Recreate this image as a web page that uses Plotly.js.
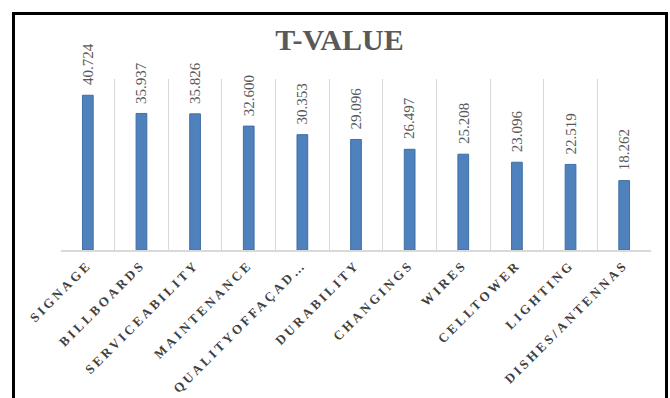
<!DOCTYPE html>
<html>
<head>
<meta charset="utf-8">
<script src="https://cdn.plot.ly/plotly-3.0.1.min.js"></script>
<style>
  html, body { margin: 0; padding: 0; background: #ffffff; }
  #wrap { position: relative; width: 670px; height: 398px; overflow: hidden; }
  #chart { position: absolute; left: 0; top: 0; width: 670px; height: 398px; }
  #frame {
    position: absolute; left: 12px; top: 12px; width: 650px; height: 420px;
    border: 3px solid #000000; pointer-events: none;
  }
  #chart .xtick text { letter-spacing: 3px; }
</style>
</head>
<body>
<div id="wrap">
  <div id="chart"></div>
  <div id="frame"></div>
</div>
<script>
// Factor names as printed on the category axis
const categories = [
  "SIGNAGE", "BILLBOARDS", "SERVICEABILITY", "MAINTENANCE", "QUALITYOFFAÇAD…",
  "DURABILITY", "CHANGINGS", "WIRES", "CELLTOWER", "LIGHTING", "DISHES/ANTENNAS"
];
// T-value of each factor
const tValues = [40.724, 35.937, 35.826, 32.600, 30.353, 29.096, 26.497, 25.208, 23.096, 22.519, 18.262];

const serif = "Liberation Serif";

const bars = {
  type: "bar",
  x: categories,
  y: tValues,
  width: 0.2,
  marker: { color: "#4F81BD", line: { color: "#3E6FA6", width: 1 } },
  hoverinfo: "x+y",
  cliponaxis: false
};

// Vertical value labels sitting a little above each bar
const valueLabels = categories.map((c, i) => ({
  x: c,
  y: tValues[i],
  xref: "x",
  yref: "y",
  text: tValues[i].toFixed(3),
  textangle: -90,
  xanchor: "center",
  yanchor: "bottom",
  yshift: 8,
  showarrow: false,
  font: { family: serif, size: 15, color: "#595959" }
}));

const layout = {
  width: 670,
  height: 398,
  margin: { l: 61, r: 19, t: 79, b: 148, pad: 0 },
  paper_bgcolor: "#ffffff",
  plot_bgcolor: "#ffffff",
  showlegend: false,
  title: {
    text: "T-VALUE",
    x: 339.5 / 670,
    xref: "container",
    xanchor: "center",
    y: 1 - 39 / 398,
    yref: "container",
    yanchor: "middle",
    font: { family: serif, size: 30, weight: "bold", color: "#595959" }
  },
  xaxis: {
    type: "category",
    tickson: "boundaries",
    showgrid: true,
    gridcolor: "#D9D9D9",
    gridwidth: 1,
    showline: true,
    linecolor: "#D9D9D9",
    linewidth: 2,
    ticks: "",
    tickangle: -45,
    tickfont: { family: serif, size: 13, weight: "bold", color: "#404040" },
    fixedrange: true
  },
  yaxis: {
    range: [0, 45],
    showgrid: false,
    zeroline: false,
    showline: false,
    showticklabels: false,
    ticks: "",
    fixedrange: true
  },
  annotations: valueLabels
};

Plotly.newPlot("chart", [bars], layout, { displayModeBar: false });
</script>
</body>
</html>
